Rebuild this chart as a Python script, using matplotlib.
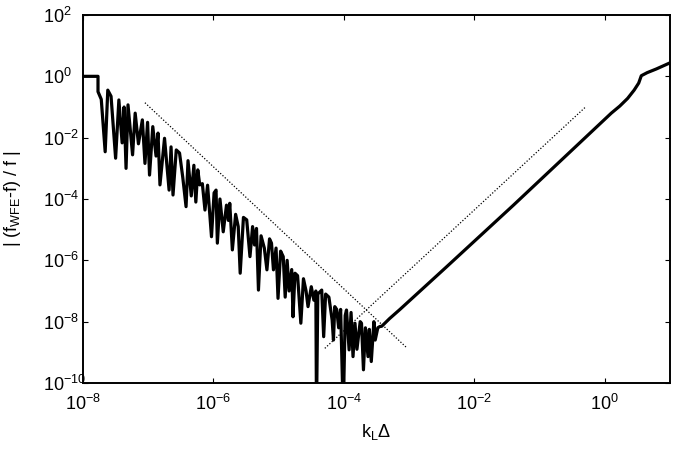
import numpy as np
import matplotlib
matplotlib.use("Agg")
import matplotlib.pyplot as plt
from matplotlib.ticker import NullLocator

plt.rcParams['font.family'] = ['Liberation Sans', 'DejaVu Sans']
plt.rcParams['mathtext.fontset'] = 'custom'
plt.rcParams['mathtext.rm'] = 'Liberation Sans'
plt.rcParams['mathtext.it'] = 'Liberation Sans:italic'

# curve, stored as log10 exponents
log_k = [-8.0, -7.77, -7.77, -7.72, -7.66, -7.62, -7.57, -7.50, -7.45, -7.40,
         -7.37, -7.34, -7.31, -7.24, -7.20, -7.15, -7.09, -7.05, -7.01, -6.98,
         -6.93, -6.88, -6.85, -6.82, -6.75, -6.68, -6.65, -6.62, -6.57, -6.52,
         -6.47, -6.42, -6.39, -6.34, -6.30, -6.27, -6.24, -6.21, -6.17, -6.13,
         -6.09, -6.03, -5.99, -5.96, -5.94, -5.90, -5.85, -5.80, -5.77, -5.75,
         -5.71, -5.66, -5.62, -5.59, -5.54, -5.49, -5.44, -5.40, -5.37, -5.34,
         -5.31, -5.27, -5.22, -5.18, -5.14, -5.11, -5.08, -5.04, -5.01, -4.97,
         -4.93, -4.90, -4.87, -4.84, -4.80, -4.78, -4.75, -4.71, -4.66, -4.62,
         -4.58, -4.55, -4.50, -4.46, -4.43, -4.42, -4.40, -4.34, -4.31, -4.28,
         -4.23, -4.18, -4.16, -4.14, -4.11, -4.08, -4.05, -4.01, -3.98, -3.96,
         -3.92, -3.89, -3.86, -3.83, -3.80, -3.75, -3.73, -3.70, -3.67, -3.63,
         -3.61, -3.58, -3.54, -3.52, -3.48, -3.45, -3.42, -3.30, -3.14, -2.43,
         -1.40, -0.38, -0.10, 0.10, 0.23, 0.35, 0.45, 0.52, 0.56, 0.65,
         0.79, 1.0]
log_err = [0.0, 0.0, -0.50, -0.75, -2.46, -0.45, -0.65, -2.67, -0.77, -2.17,
           -1.00, -3.00, -0.93, -2.56, -1.20, -2.20, -1.42, -2.84, -1.50, -3.22,
           -1.64, -2.60, -1.85, -3.54, -2.02, -3.71, -2.30, -3.87, -2.40, -2.50,
           -3.30, -4.25, -2.75, -3.90, -2.90, -4.10, -3.05, -3.54, -3.50, -4.36,
           -3.55, -5.23, -3.80, -3.71, -5.44, -4.00, -5.07, -4.20, -4.70, -4.14,
           -5.66, -4.50, -4.90, -6.42, -4.60, -4.68, -5.88, -4.90, -5.50, -4.96,
           -6.97, -5.20, -5.60, -6.31, -5.30, -5.44, -6.31, -5.60, -7.24, -5.70,
           -5.88, -7.20, -6.00, -7.00, -6.30, -7.84, -6.42, -6.50, -8.05, -6.60,
           -7.00, -7.51, -6.86, -7.30, -7.00, -11.0, -7.10, -6.97, -8.49, -7.10,
           -7.20, -7.95, -8.60, -7.51, -7.60, -8.20, -7.60, -11.0, -7.80, -7.62,
           -8.92, -7.70, -9.14, -8.05, -8.90, -8.00, -8.05, -9.57, -8.20, -9.14,
           -8.25, -9.30, -8.00, -8.60, -8.20, -8.16, -8.15, -7.90, -7.60, -6.22,
           -4.20, -2.16, -1.60, -1.20, -0.97, -0.72, -0.45, -0.22, 0.02, 0.12,
           0.24, 0.44]

# dotted guide lines (slopes -2 and +2)
guide_down_x = [8.9e-8, 9.3e-4]
guide_down_y = [1.38e-1, 1.38e-9]
guide_up_x = [5.1e-5, 5.2e-1]
guide_up_y = [1.35e-9, 1.05e-1]

k = 10.0 ** np.array(log_k)
err = 10.0 ** np.array(log_err)

fig = plt.figure(figsize=(6.78, 4.5), dpi=100)
ax = fig.add_axes([83 / 678, 1 - 383 / 450, 587 / 678, 368 / 450])

ax.plot(k, err, color='black', lw=2.3, solid_joinstyle='round')
ax.plot(guide_down_x, guide_down_y, color='black', lw=0.9, ls=(0, (1, 1.5)))
ax.plot(guide_up_x, guide_up_y, color='black', lw=0.9, ls=(0, (1, 1.5)))

ax.set_xscale('log')
ax.set_yscale('log')
ax.set_xlim(1e-8, 1e1)
ax.set_ylim(1e-10, 1e2)
ax.set_xticks([1e-8, 1e-6, 1e-4, 1e-2, 1e0])
ax.set_yticks([1e-10, 1e-8, 1e-6, 1e-4, 1e-2, 1e0, 1e2])
ax.xaxis.set_minor_locator(NullLocator())
ax.yaxis.set_minor_locator(NullLocator())
ax.tick_params(direction='in', top=True, right=True, length=3.6, width=0.8,
               labelsize=13)
ax.tick_params(axis='x', pad=8)
ax.tick_params(axis='y', pad=29)
for lbl in ax.get_yticklabels():
    lbl.set_horizontalalignment('left')
for sp in ax.spines.values():
    sp.set_linewidth(1.4)

ax.set_xlabel(r'k$_\mathregular{L}$Δ', fontsize=13)
ax.set_ylabel(r'| (f$_\mathregular{WFE}$-f) / f |', fontsize=13)
ax.xaxis.set_label_coords(0.5, -0.106)
ax.yaxis.set_label_coords(-0.102, 0.5)

fig.savefig('out.png', dpi=100)
